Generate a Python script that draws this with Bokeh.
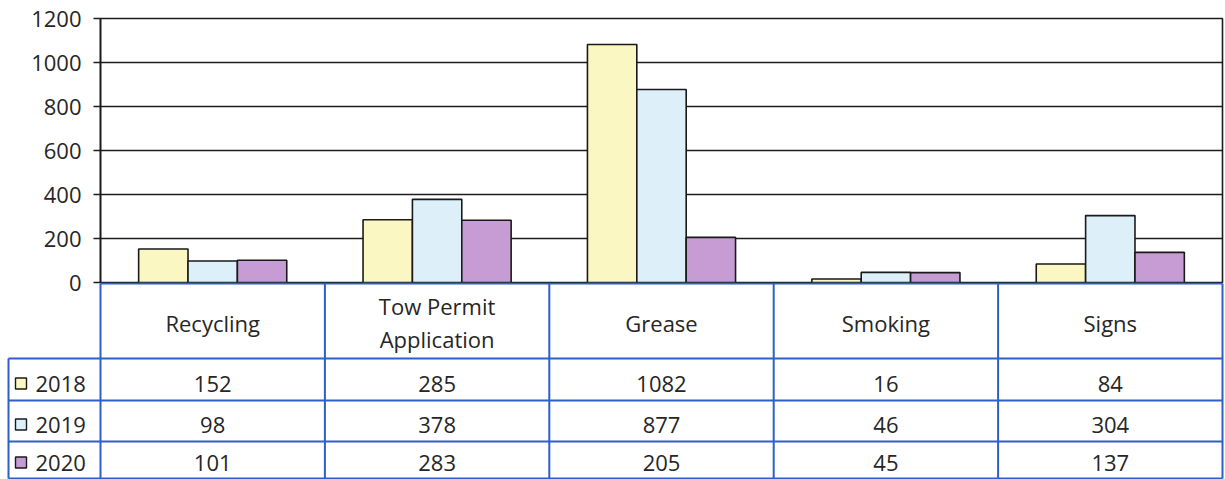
from bokeh.plotting import figure
from bokeh.layouts import column
from bokeh.models import FactorRange, Range1d, FixedTicker, ColumnDataSource
from bokeh.transform import dodge
from bokeh.core.properties import value
from bokeh.embed import file_html
from bokeh.resources import INLINE

# ---- data ----
categories = ["Recycling", "Tow Permit Application", "Grease", "Smoking", "Signs"]
category_labels = ["Recycling", "Tow Permit\nApplication", "Grease", "Smoking", "Signs"]
years = ["2018", "2019", "2020"]
values_2018 = [152, 285, 1082, 16, 84]
values_2019 = [98, 378, 877, 46, 304]
values_2020 = [101, 283, 205, 45, 137]
y_ticks = [0, 200, 400, 600, 800, 1000, 1200]

series = [values_2018, values_2019, values_2020]
colors = ["#FBF7C2", "#DDF0FA", "#C79BD3"]
FONT = "Open Sans"
FS = "22px"
TXT = "#262626"
BLUE = "#2E5EC8"

W = 1225
OVER = 12
TOP_H = 282 + OVER
TAB_H = 197
LEFT = 100
RIGHT = 3

# ---- bar chart ----
src = ColumnDataSource(dict(cat=categories, y2018=values_2018, y2019=values_2019, y2020=values_2020))
p = figure(x_range=FactorRange(*categories), y_range=Range1d(0, 1200),
           width=W, height=TOP_H, output_backend="svg", toolbar_location=None,
           min_border_left=LEFT, min_border_right=RIGHT, min_border_top=18, min_border_bottom=OVER)
p.frame_align = False
p.xaxis.visible = False
p.xgrid.grid_line_color = None
p.ygrid.ticker = FixedTicker(ticks=y_ticks)
p.ygrid.grid_line_color = "#1c1c1c"
p.ygrid.grid_line_width = 1.6
p.outline_line_color = "#1c1c1c"
p.outline_line_width = 1.6
ax = p.yaxis[0]
ax.ticker = FixedTicker(ticks=y_ticks)
ax.axis_line_color = "#1c1c1c"
ax.axis_line_width = 1.6
ax.major_tick_line_color = "#1c1c1c"
ax.major_tick_line_width = 1.6
ax.major_tick_out = 7
ax.major_tick_in = 0
ax.minor_tick_line_color = None
ax.major_label_text_font = FONT
ax.major_label_text_font_size = FS
ax.major_label_text_color = TXT
ax.major_label_standoff = 12

bw = 0.22
offsets = [-bw, 0.0, bw]
for key, off, col in zip(["y2018", "y2019", "y2020"], offsets, colors):
    p.vbar(x=dodge("cat", off, range=p.x_range), top=key, width=bw, bottom=0, source=src,
           fill_color=col, line_color="#1a1a1a", line_width=1.6)

# ---- data table ----
cw = (W - LEFT - RIGHT) / 5.0
t = figure(x_range=Range1d(-LEFT / cw, 5 + RIGHT / cw), y_range=Range1d(TAB_H, 0),
           width=W, height=TAB_H, output_backend="svg", toolbar_location=None,
           min_border_left=0, min_border_right=0, min_border_top=0, min_border_bottom=0)
t.frame_align = False
t.margin = (-OVER, 0, 0, 0)
t.axis.visible = False
t.grid.grid_line_color = None
t.outline_line_color = None
t.background_fill_color = None
t.border_fill_color = None
t.background_fill_alpha = 0
t.border_fill_alpha = 0

row_edges = [76, 118, 159, 196]
left_x = -(LEFT - 8) / cw
n = len(categories)
# vertical lines between categories
t.segment(x0=list(range(n + 1)), y0=[1] * (n + 1), x1=list(range(n + 1)), y1=[196] * (n + 1),
          line_color=BLUE, line_width=2)
# left edge of legend column
t.segment(x0=[left_x], y0=[76], x1=[left_x], y1=[196], line_color=BLUE, line_width=2)
# top border of header
t.segment(x0=[0], y0=[1], x1=[n], y1=[1], line_color=BLUE, line_width=2)
# row lines
t.segment(x0=[left_x] * len(row_edges), y0=row_edges, x1=[n] * len(row_edges), y1=row_edges,
          line_color=BLUE, line_width=2)

centers = [i + 0.5 for i in range(n)]
# header labels
t.text(x=centers, y=[40] * n, text=category_labels, text_font=value(FONT), text_font_size=FS,
       text_color=TXT, text_align="center", text_baseline="middle", text_line_height=1.12)
# value rows
row_mid = [101, 142, 180]
for vals, ym in zip(series, row_mid):
    t.text(x=centers, y=[ym] * n, text=[str(v) for v in vals], text_font=value(FONT),
           text_font_size=FS, text_color=TXT, text_align="center", text_baseline="middle")
# legend keys
t.scatter(x=[(20.5 - LEFT) / cw] * 3, y=row_mid, marker="square", size=11,
          fill_color=colors, line_color="#1a1a1a", line_width=1.4)
t.text(x=[(35 - LEFT) / cw] * 3, y=row_mid, text=years, text_font=value(FONT),
       text_font_size=FS, text_color=TXT, text_align="left", text_baseline="middle")

layout = column(p, t, spacing=0)
open("out.html", "w").write(file_html(layout, INLINE))
